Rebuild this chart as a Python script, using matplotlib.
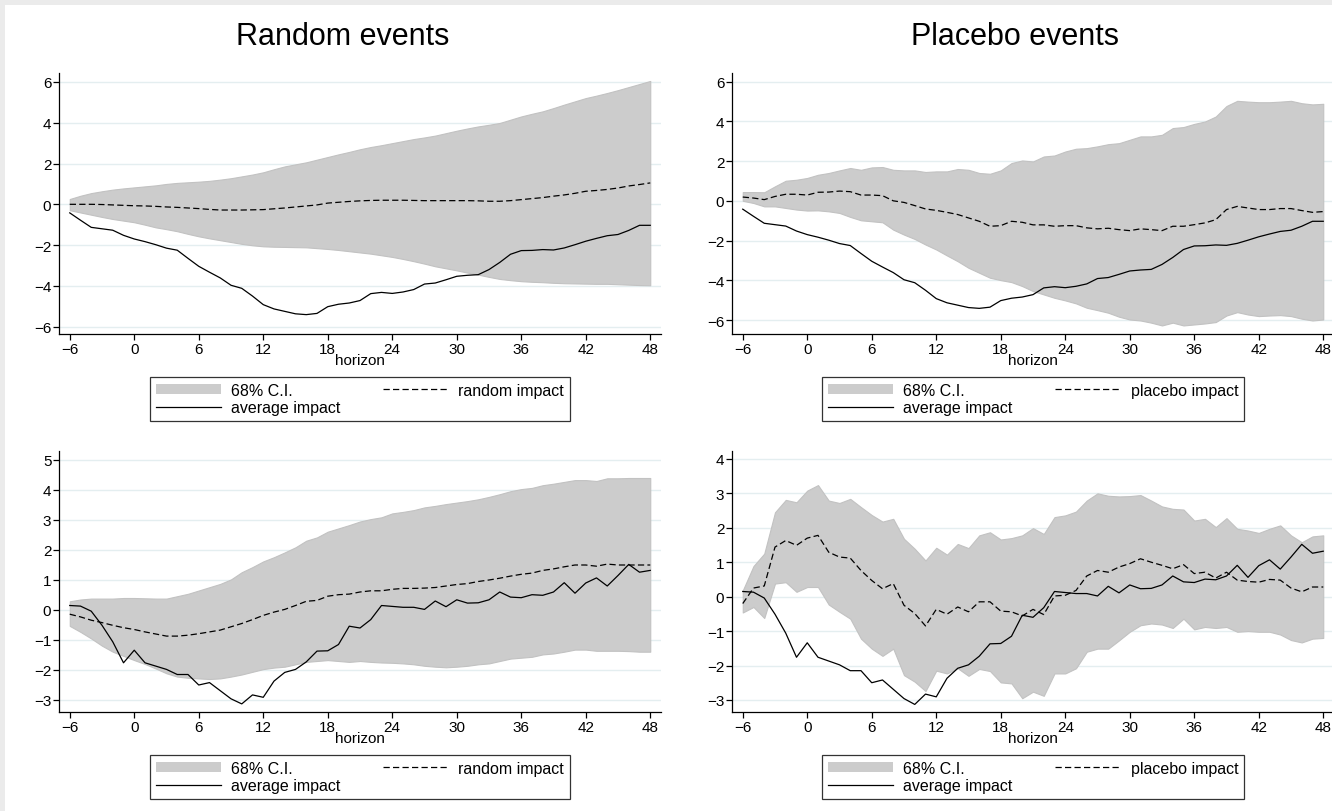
import matplotlib.pyplot as plt
from matplotlib.patches import Patch, Rectangle
from matplotlib.lines import Line2D

plt.rcParams['font.family'] = ['Liberation Sans', 'DejaVu Sans']

horizon = list(range(-6, 49))
x_ticks = [-6, 0, 6, 12, 18, 24, 30, 36, 42, 48]

# top row: average impact (same in both panels)
avg_top = [-0.42, -0.78, -1.13, -1.20, -1.27, -1.52, -1.70, -1.83, -1.98, -2.15,
           -2.25, -2.65, -3.04, -3.33, -3.61, -3.97, -4.12, -4.50, -4.92, -5.13,
           -5.25, -5.37, -5.41, -5.35, -5.02, -4.90, -4.84, -4.72, -4.38, -4.32,
           -4.37, -4.30, -4.18, -3.91, -3.86, -3.70, -3.53, -3.48, -3.45, -3.20,
           -2.85, -2.45, -2.27, -2.26, -2.22, -2.24, -2.14, -1.98, -1.81, -1.67,
           -1.54, -1.48, -1.28, -1.03, -1.03]

random_top = [0.00, 0.00, 0.00, -0.01, -0.03, -0.05, -0.07, -0.08, -0.10, -0.13,
              -0.15, -0.18, -0.21, -0.25, -0.28, -0.28, -0.28, -0.27, -0.26, -0.22,
              -0.18, -0.13, -0.08, -0.03, 0.06, 0.10, 0.14, 0.17, 0.19, 0.20,
              0.20, 0.20, 0.19, 0.18, 0.18, 0.18, 0.18, 0.18, 0.17, 0.15,
              0.15, 0.18, 0.23, 0.28, 0.33, 0.40, 0.46, 0.54, 0.64, 0.68,
              0.73, 0.80, 0.90, 0.97, 1.05]

random_top_hi = [0.26, 0.42, 0.55, 0.64, 0.72, 0.78, 0.83, 0.88, 0.93, 1.00,
                 1.05, 1.08, 1.11, 1.15, 1.21, 1.28, 1.37, 1.46, 1.57, 1.72,
                 1.86, 1.96, 2.06, 2.19, 2.32, 2.45, 2.57, 2.70, 2.81, 2.90,
                 3.00, 3.10, 3.20, 3.28, 3.37, 3.49, 3.61, 3.72, 3.82, 3.90,
                 3.99, 4.15, 4.31, 4.44, 4.56, 4.72, 4.89, 5.05, 5.21, 5.33,
                 5.46, 5.60, 5.75, 5.90, 6.05]

random_top_lo = [-0.29, -0.40, -0.51, -0.62, -0.72, -0.80, -0.88, -1.00, -1.13, -1.22,
                 -1.32, -1.45, -1.57, -1.67, -1.76, -1.85, -1.94, -2.01, -2.06, -2.08,
                 -2.09, -2.10, -2.11, -2.15, -2.19, -2.24, -2.30, -2.36, -2.42, -2.50,
                 -2.58, -2.68, -2.79, -2.91, -3.04, -3.14, -3.24, -3.35, -3.45, -3.56,
                 -3.66, -3.72, -3.77, -3.80, -3.82, -3.85, -3.87, -3.88, -3.89, -3.90,
                 -3.90, -3.92, -3.94, -3.96, -3.97]

placebo_top = [0.19, 0.14, 0.06, 0.22, 0.33, 0.33, 0.29, 0.43, 0.44, 0.49,
               0.46, 0.29, 0.29, 0.26, 0.00, -0.08, -0.24, -0.41, -0.48, -0.58,
               -0.69, -0.86, -1.03, -1.28, -1.25, -1.03, -1.08, -1.21, -1.21, -1.28,
               -1.25, -1.25, -1.36, -1.41, -1.38, -1.45, -1.50, -1.41, -1.45, -1.50,
               -1.28, -1.28, -1.20, -1.11, -0.95, -0.44, -0.28, -0.36, -0.44, -0.44,
               -0.39, -0.39, -0.49, -0.58, -0.54]

placebo_top_hi = [0.44, 0.44, 0.43, 0.73, 1.01, 1.06, 1.15, 1.31, 1.40, 1.53,
                  1.65, 1.56, 1.68, 1.70, 1.56, 1.53, 1.53, 1.45, 1.48, 1.48,
                  1.60, 1.56, 1.40, 1.36, 1.53, 1.90, 2.03, 1.98, 2.23, 2.28,
                  2.48, 2.62, 2.65, 2.74, 2.85, 2.90, 3.07, 3.24, 3.24, 3.32,
                  3.66, 3.71, 3.87, 3.99, 4.24, 4.77, 5.03, 4.99, 4.96, 4.96,
                  4.99, 5.03, 4.91, 4.85, 4.88]

placebo_top_lo = [0.00, -0.11, -0.28, -0.28, -0.36, -0.44, -0.49, -0.48, -0.53, -0.61,
                  -0.81, -0.98, -1.03, -1.08, -1.45, -1.70, -1.92, -2.20, -2.45, -2.75,
                  -3.04, -3.37, -3.62, -3.87, -3.99, -4.09, -4.29, -4.54, -4.71, -4.88,
                  -5.01, -5.16, -5.38, -5.50, -5.63, -5.83, -5.97, -6.02, -6.13, -6.27,
                  -6.13, -6.27, -6.22, -6.17, -6.10, -5.77, -5.60, -5.72, -5.80, -5.77,
                  -5.75, -5.80, -5.93, -6.02, -5.97]

# bottom row
avg_bot = [0.15, 0.13, -0.04, -0.51, -1.06, -1.76, -1.34, -1.76, -1.87, -1.98,
           -2.15, -2.15, -2.50, -2.42, -2.69, -2.96, -3.13, -2.83, -2.91, -2.37,
           -2.08, -1.98, -1.73, -1.37, -1.36, -1.15, -0.54, -0.60, -0.32, 0.15,
           0.12, 0.09, 0.09, 0.02, 0.30, 0.11, 0.34, 0.23, 0.24, 0.34,
           0.60, 0.43, 0.41, 0.51, 0.49, 0.60, 0.91, 0.56, 0.90, 1.07,
           0.80, 1.15, 1.52, 1.26, 1.32]

random_bot = [-0.14, -0.23, -0.34, -0.42, -0.51, -0.59, -0.65, -0.73, -0.80, -0.87,
              -0.87, -0.84, -0.79, -0.73, -0.67, -0.56, -0.45, -0.32, -0.18, -0.07,
              0.02, 0.15, 0.29, 0.32, 0.46, 0.51, 0.53, 0.60, 0.64, 0.64,
              0.69, 0.72, 0.72, 0.73, 0.75, 0.80, 0.85, 0.88, 0.95, 1.00,
              1.06, 1.13, 1.19, 1.23, 1.32, 1.37, 1.44, 1.50, 1.50, 1.46,
              1.53, 1.50, 1.50, 1.50, 1.50]

random_bot_hi = [0.29, 0.35, 0.38, 0.38, 0.38, 0.40, 0.40, 0.39, 0.38, 0.38,
                 0.46, 0.54, 0.65, 0.76, 0.87, 1.02, 1.26, 1.43, 1.62, 1.76,
                 1.92, 2.09, 2.31, 2.42, 2.61, 2.72, 2.83, 2.95, 3.03, 3.09,
                 3.22, 3.27, 3.33, 3.42, 3.47, 3.53, 3.58, 3.63, 3.69, 3.77,
                 3.86, 3.96, 4.03, 4.07, 4.16, 4.21, 4.27, 4.33, 4.33, 4.30,
                 4.39, 4.39, 4.40, 4.40, 4.40]

random_bot_lo = [-0.53, -0.73, -0.95, -1.19, -1.39, -1.53, -1.67, -1.80, -1.95, -2.11,
                 -2.22, -2.26, -2.28, -2.30, -2.28, -2.22, -2.15, -2.06, -1.97, -1.92,
                 -1.89, -1.81, -1.73, -1.70, -1.67, -1.70, -1.73, -1.70, -1.73, -1.75,
                 -1.76, -1.78, -1.81, -1.86, -1.89, -1.91, -1.89, -1.86, -1.81, -1.78,
                 -1.70, -1.62, -1.59, -1.56, -1.48, -1.45, -1.39, -1.32, -1.32, -1.36,
                 -1.36, -1.36, -1.37, -1.39, -1.39]

placebo_bot = [-0.20, 0.25, 0.31, 1.44, 1.63, 1.49, 1.70, 1.78, 1.29, 1.15,
               1.12, 0.76, 0.47, 0.23, 0.38, -0.25, -0.49, -0.85, -0.37, -0.51,
               -0.30, -0.44, -0.15, -0.15, -0.42, -0.44, -0.56, -0.37, -0.52, 0.02,
               0.04, 0.18, 0.60, 0.76, 0.71, 0.86, 0.96, 1.10, 1.00, 0.91,
               0.81, 0.93, 0.67, 0.71, 0.54, 0.71, 0.48, 0.44, 0.42, 0.50,
               0.48, 0.25, 0.14, 0.28, 0.28]

placebo_bot_hi = [0.18, 0.89, 1.25, 2.45, 2.81, 2.74, 3.08, 3.24, 2.79, 2.72,
                  2.84, 2.60, 2.37, 2.18, 2.26, 1.68, 1.39, 1.05, 1.42, 1.22,
                  1.53, 1.41, 1.78, 1.87, 1.66, 1.70, 1.78, 1.99, 1.82, 2.31,
                  2.36, 2.47, 2.79, 3.00, 2.93, 2.91, 2.92, 2.95, 2.79, 2.62,
                  2.55, 2.53, 2.21, 2.26, 2.02, 2.28, 1.97, 1.92, 1.85, 1.97,
                  2.07, 1.78, 1.58, 1.75, 1.78]

placebo_bot_lo = [-0.46, -0.30, -0.62, 0.38, 0.42, 0.14, 0.28, 0.28, -0.23, -0.44,
                  -0.64, -1.22, -1.51, -1.72, -1.51, -2.28, -2.47, -2.74, -2.15, -2.23,
                  -2.08, -2.30, -2.10, -2.16, -2.49, -2.52, -2.95, -2.76, -2.88, -2.23,
                  -2.23, -2.08, -1.60, -1.51, -1.51, -1.27, -1.02, -0.83, -0.78, -0.81,
                  -0.91, -0.64, -0.95, -0.88, -0.91, -0.88, -1.02, -1.00, -1.02, -1.02,
                  -1.10, -1.26, -1.33, -1.22, -1.20]

BAND = '#cccccc'
GRID = '#e4eef0'


def draw_panel(ax, lo, hi, avg, other, other_label, ylim, yticks):
    ax.fill_between(horizon, lo, hi, facecolor=BAND, edgecolor='#c2c2c2', lw=0.8, zorder=1)
    ax.plot(horizon, other, color='black', lw=0.9, dashes=(5, 2.6), zorder=3)
    ax.plot(horizon, avg, color='black', lw=0.9, zorder=3)
    ax.set_xlim(-7, 49)
    ax.set_ylim(*ylim)
    ax.set_xticks(x_ticks)
    ax.set_yticks(yticks)
    ax.grid(axis='y', color=GRID, lw=1.0, zorder=0)
    ax.set_axisbelow(True)
    for side in ('top', 'right'):
        ax.spines[side].set_visible(False)
    for side in ('left', 'bottom'):
        ax.spines[side].set_linewidth(0.9)
    ax.tick_params(direction='out', length=4, width=0.9, labelsize=11, pad=1.5)
    ax.set_xlabel('horizon', fontsize=11, labelpad=-2)

    handles = [Patch(facecolor=BAND, edgecolor='none'),
               Line2D([], [], color='black', lw=0.9),
               Line2D([], [], color='black', lw=0.9, dashes=(5, 2.6))]
    labels = ['68% C.I.', 'average impact', other_label]
    leg = ax.legend(handles, labels, ncol=2, loc='upper center',
                    bbox_to_anchor=(0.5, -0.165), borderaxespad=0,
                    fontsize=11.5, frameon=True, fancybox=False,
                    edgecolor='black', handlelength=4.1, handleheight=0.6,
                    handletextpad=0.6, columnspacing=2.7, labelspacing=0.15,
                    borderpad=0.35)
    leg.get_frame().set_linewidth(0.9)


fig = plt.figure(figsize=(13.32, 8.12), dpi=100)
fig.patch.set_facecolor('white')
fig.patches.append(Rectangle((0, 1 - 6 / 812), 1, 6 / 812, transform=fig.transFigure,
                             facecolor='#ebebeb', edgecolor='none', zorder=0))
fig.patches.append(Rectangle((0, 0), 5 / 1332, 1, transform=fig.transFigure,
                             facecolor='#ebebeb', edgecolor='none', zorder=0))

w = 602 / 1332
h = 261 / 812
ax_tl = fig.add_axes([59 / 1332, 1 - 335 / 812, w, h])
ax_tr = fig.add_axes([732 / 1332, 1 - 335 / 812, w, h])
ax_bl = fig.add_axes([59 / 1332, 1 - 713 / 812, w, h])
ax_br = fig.add_axes([732 / 1332, 1 - 713 / 812, w, h])

draw_panel(ax_tl, random_top_lo, random_top_hi, avg_top, random_top, 'random impact',
           (-6.36, 6.44), [-6, -4, -2, 0, 2, 4, 6])
draw_panel(ax_tr, placebo_top_lo, placebo_top_hi, avg_top, placebo_top, 'placebo impact',
           (-6.7, 6.43), [-6, -4, -2, 0, 2, 4, 6])
draw_panel(ax_bl, random_bot_lo, random_bot_hi, avg_bot, random_bot, 'random impact',
           (-3.4, 5.3), [-3, -2, -1, 0, 1, 2, 3, 4, 5])
draw_panel(ax_br, placebo_bot_lo, placebo_bot_hi, avg_bot, placebo_bot, 'placebo impact',
           (-3.35, 4.23), [-3, -2, -1, 0, 1, 2, 3, 4])

fig.text(343 / 1332, 1 - 45 / 812, 'Random events', fontsize=22, ha='center', va='baseline')
fig.text(1015 / 1332, 1 - 45 / 812, 'Placebo events', fontsize=22, ha='center', va='baseline')

fig.savefig('out.png', dpi=100)
